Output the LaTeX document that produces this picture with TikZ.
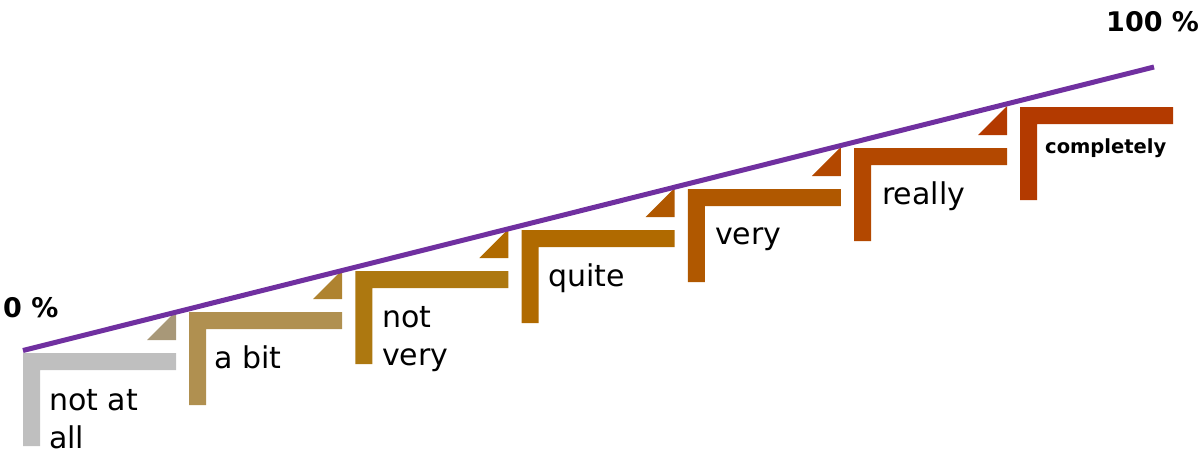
\documentclass[tikz,border=0pt]{standalone}
\usepackage{fontspec}
\setmainfont{DejaVu Sans}
\definecolor{sA}{HTML}{BFBFBF}
\definecolor{sB}{HTML}{B09050}
\definecolor{sC}{HTML}{AD7810}
\definecolor{sD}{HTML}{B06A00}
\definecolor{sE}{HTML}{B05800}
\definecolor{sF}{HTML}{B34800}
\definecolor{sG}{HTML}{B33A00}
\definecolor{tB}{HTML}{A89878}
\definecolor{tC}{HTML}{AF8330}
\definecolor{linepurple}{HTML}{7030A0}
\newcommand\twolines[2]{\vtop{\hbox{#1}\hbox{#2}}}
\begin{document}
\begin{tikzpicture}[x=1pt,y=-1pt,
  lbl/.style={anchor=base west, inner sep=0pt, font=\fontsize{30}{38}\selectfont},
  smalllbl/.style={anchor=base west, inner sep=0pt, font=\fontsize{19.5}{22}\selectfont\bfseries},
  pct/.style={anchor=base west, inner sep=0pt, font=\fontsize{27}{30}\selectfont\bfseries},
  scaleline/.style={draw=linepurple, line width=5pt}]
\useasboundingbox (0,0) rectangle (1202,456);
% steps
\foreach \k/\c in {0/sA,1/sB,2/sC,3/sD,4/sE,5/sF,6/sG}{
  \pgfmathsetmacro\L{23+166.2*\k}
  \pgfmathsetmacro\T{353-41*\k}
  \fill[\c] (\L,\T) -- ++(153,0) -- ++(0,17) -- ++(-136,0) -- ++(0,76) -- ++(-17,0) -- cycle;
}
% triangles
\foreach \k/\c in {1/tB,2/tC,3/sD,4/sE,5/sF,6/sG}{
  \pgfmathsetmacro\R{176+166.2*(\k-1)}
  \pgfmathsetmacro\T{353-41*(\k-1)}
  \fill[\c] (\R,\T-42) -- (\R,\T-13) -- (\R-29,\T-13) -- cycle;
}
% scale line
\coordinate (p0) at (23,350.5);
\coordinate (p100) at (1154,67);
\draw[scaleline] (p0) -- (p100);
% labels
\node[lbl] (l1) at (49,410) {\twolines{not at}{all}};
\node[lbl] (l2) at (214,368) {a bit};
\node[lbl] (l3) at (382,327) {\twolines{not}{very}};
\node[lbl] (l4) at (548,286) {quite};
\node[lbl] (l5) at (715,244) {very};
\node[lbl] (l6) at (882,204) {really};
\node[smalllbl] (l7) at (1045,153) {completely};
\node[pct] (z0) at (3,317) {0 \%};
\node[pct] (z100) at (1106,31) {100 \%};
\end{tikzpicture}
\end{document}
